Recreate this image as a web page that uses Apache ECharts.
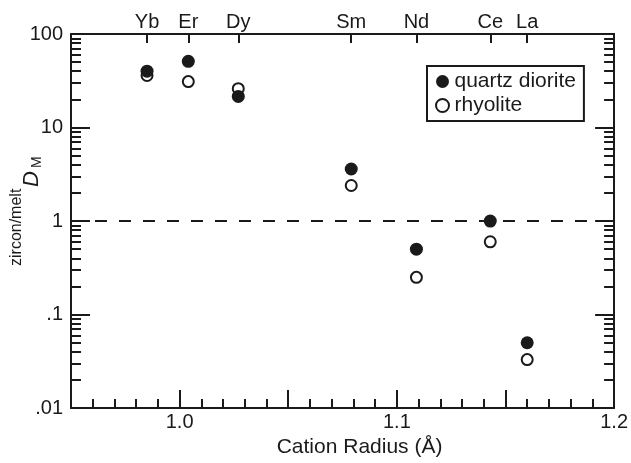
<!DOCTYPE html>
<html>
<head>
<meta charset="UTF-8">
<title>Zircon/melt partition coefficients</title>
<script src="https://cdn.jsdelivr.net/npm/echarts@6/dist/echarts.min.js"></script>
<style>
  html, body { margin: 0; padding: 0; background: #fff; }
  #chart { width: 631px; height: 463px; }
</style>
</head>
<body>
<div id="chart"></div>
<script>
// element names and their cation radii (top axis)
const elements = ['Yb', 'Er', 'Dy', 'Sm', 'Nd', 'Ce', 'La'];
const radii = [0.985, 1.004, 1.027, 1.079, 1.109, 1.143, 1.160];

// zircon/melt D values
const quartzDiorite = [40, 51, 21.5, 3.6, 0.5, 1.0, 0.05];
const rhyolite = [36, 31, 26, 2.4, 0.25, 0.6, 0.033];

// y tick labels (log axis)
const yTickText = { '100': '100', '10': '10', '1': '1', '0.1': '.1', '0.01': '.01' };

// minor ticks at 2..9 of each decade
const minorY = [];
[0.01, 0.1, 1, 10].forEach(d => {
  for (let k = 2; k <= 9; k++) minorY.push(+(d * k).toPrecision(3));
});

const FONT = '"Liberation Sans", Arial, Helvetica, sans-serif';
const black = '#1a1a1a';

const chart = echarts.init(document.getElementById('chart'));

const yBase = {
  type: 'log', logBase: 10, min: 0.01, max: 100,
  splitLine: { show: false }
};

const option = {
  animation: false,
  grid: { left: 71, right: 14, top: 34, bottom: 45 },
  legend: {
    orient: 'vertical',
    left: 427, top: 66,
    data: ['quartz diorite', 'rhyolite'],
    padding: [5, 8, 5, 8],
    itemGap: 3,
    itemWidth: 14, itemHeight: 13,
    borderColor: black, borderWidth: 2,
    textStyle: { fontFamily: FONT, fontSize: 21, color: black }
  },
  xAxis: [
    {
      type: 'value', position: 'bottom',
      min: 0.95, max: 1.2, interval: 0.05,
      name: 'Cation Radius (Å)', nameLocation: 'middle', nameGap: 25,
      nameTextStyle: { fontFamily: FONT, fontSize: 21, color: black, padding: [0, 0, 0, 34] },
      axisLine: { lineStyle: { color: black, width: 2 } },
      axisTick: { inside: true, length: 18, lineStyle: { width: 2, color: black } },
      minorTick: { show: true, splitNumber: 5, length: 9, lineStyle: { width: 2, color: black } },
      splitLine: { show: false },
      axisLabel: {
        fontFamily: FONT, fontSize: 20, color: black, margin: 4,
        formatter: v => Math.abs(v * 10 - Math.round(v * 10)) < 1e-6 ? v.toFixed(1) : ''
      }
    },
    {
      type: 'value', position: 'top',
      min: 0.95, max: 1.2,
      axisLine: { lineStyle: { color: black, width: 2 } },
      axisTick: { inside: true, length: 9, customValues: radii, lineStyle: { width: 2, color: black } },
      splitLine: { show: false },
      axisLabel: {
        customValues: radii, fontFamily: FONT, fontSize: 20, color: black, margin: 2,
        formatter: v => {
          const i = radii.findIndex(r => Math.abs(r - v) < 1e-6);
          return i >= 0 ? elements[i] : '';
        }
      }
    }
  ],
  yAxis: [
    Object.assign({}, yBase, {
      position: 'left',
      axisLine: { show: true, lineStyle: { color: black, width: 2 } },
      axisTick: { inside: true, length: 19, lineStyle: { width: 2, color: black } },
      axisLabel: {
        fontFamily: FONT, fontSize: 20, color: black, margin: 8,
        formatter: v => yTickText[String(+v.toPrecision(3))] || ''
      }
    }),
    Object.assign({}, yBase, {
      position: 'left',
      axisLine: { show: false },
      axisTick: { inside: true, length: 10, customValues: minorY, lineStyle: { width: 2, color: black } },
      axisLabel: { show: false }
    }),
    Object.assign({}, yBase, {
      position: 'right',
      axisLine: { show: true, lineStyle: { color: black, width: 2 } },
      axisTick: { inside: true, length: 19, lineStyle: { width: 2, color: black } },
      axisLabel: { show: false }
    }),
    Object.assign({}, yBase, {
      position: 'right',
      axisLine: { show: false },
      axisTick: { inside: true, length: 10, customValues: minorY, lineStyle: { width: 2, color: black } },
      axisLabel: { show: false }
    })
  ],
  series: [
    {
      name: 'rhyolite', type: 'scatter', xAxisIndex: 0, yAxisIndex: 0,
      symbol: 'circle', symbolSize: 11,
      itemStyle: { color: '#fff', borderColor: black, borderWidth: 2, opacity: 1 },
      data: radii.map((r, i) => [r, rhyolite[i]])
    },
    {
      name: 'quartz diorite', type: 'scatter', xAxisIndex: 0, yAxisIndex: 0,
      symbol: 'circle', symbolSize: 13,
      itemStyle: { color: black, opacity: 1 },
      data: radii.map((r, i) => [r, quartzDiorite[i]]),
      markLine: {
        silent: true, symbol: 'none',
        label: { show: false },
        lineStyle: { color: black, width: 2, type: [12, 12] },
        data: [{ yAxis: 1 }]
      }
    }
  ],
  graphic: [
    {
      type: 'text', x: 17, y: 266, rotation: Math.PI / 2,
      style: { text: 'zircon/melt', font: '16px ' + FONT, fill: black, align: 'left', verticalAlign: 'middle' }
    },
    {
      type: 'text', x: 32, y: 187, rotation: Math.PI / 2,
      style: { text: 'D', font: 'italic 22px ' + FONT, fill: black, align: 'left', verticalAlign: 'middle' }
    },
    {
      type: 'text', x: 37, y: 168, rotation: Math.PI / 2,
      style: { text: 'M', font: '14px ' + FONT, fill: black, align: 'left', verticalAlign: 'middle' }
    }
  ]
};

chart.setOption(option);
</script>
</body>
</html>
